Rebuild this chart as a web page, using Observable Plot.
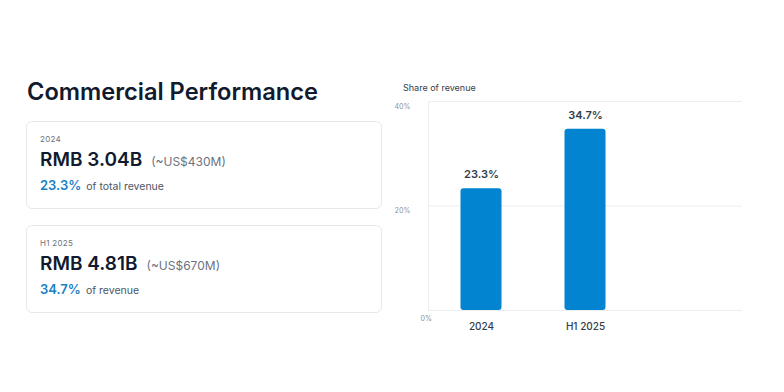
<!DOCTYPE html>
<html>
<head>
<meta charset="utf-8">
<script src="https://cdn.jsdelivr.net/npm/d3@7"></script>
<script src="https://cdn.jsdelivr.net/npm/@observablehq/plot@0.6"></script>
<style>
  html, body { margin: 0; padding: 0; background: #fff; }
  body { width: 784px; height: 392px; position: relative; overflow: hidden; font-family: Inter, "Noto Sans", sans-serif; }
  h1 { position: absolute; left: 27px; top: 77px; margin: 0; font-size: 23.6px; font-weight: 600; color: #111a2e; }
  .card { position: absolute; left: 26px; width: 356px; height: 88px; border: 1px solid #e6e8ee; border-radius: 6px; box-sizing: border-box; }
  .card .period { position: absolute; left: 13px; top: 12px; font-size: 8px; color: #6b7280; letter-spacing: 0.3px; }
  .card .amount { position: absolute; left: 13px; top: 26px; font-size: 19px; font-weight: 600; color: #111a2e; white-space: nowrap; }
  .card .usd { font-size: 12px; font-weight: 400; color: #6b7280; margin-left: 9px; }
  .card .share { position: absolute; left: 13px; top: 55px; font-size: 13px; font-weight: 600; color: #1a7fc4; white-space: nowrap; }
  .card .share span { font-size: 10.5px; font-weight: 400; color: #4b5563; margin-left: 5px; }
  #title { position: absolute; left: 403px; top: 82px; font-size: 9px; color: #333d4b; }
  #chart { position: absolute; left: 390px; top: 95px; }
</style>
</head>
<body>
<h1>Commercial Performance</h1>
<div id="cards"></div>
<div id="title">Share of revenue</div>
<div id="chart"></div>
<script>
const periods = ["2024", "H1 2025"];
const shares = [23.3, 34.7];
const amounts = ["RMB 3.04B", "RMB 4.81B"];
const usd = ["(~US$430M)", "(~US$670M)"];
const shareNotes = ["of total revenue", "of revenue"];
const yTicks = [0, 20, 40];

// cards
const cardTops = [121, 225];
const cards = document.getElementById("cards");
periods.forEach((p, i) => {
  const c = document.createElement("div");
  c.className = "card";
  c.style.top = cardTops[i] + "px";
  c.innerHTML = `<div class="period">${p}</div>
    <div class="amount">${amounts[i]}<span class="usd">${usd[i]}</span></div>
    <div class="share">${shares[i].toFixed(1)}%<span>${shareNotes[i]}</span></div>`;
  cards.appendChild(c);
});

const data = periods.map((p, i) => ({period: p, share: shares[i]}));

const chart = Plot.plot({
  width: 370,
  height: 240,
  marginLeft: 38,
  marginTop: 6,
  marginBottom: 25,
  marginRight: 18,
  style: {fontFamily: "Inter, 'Noto Sans', sans-serif", background: "transparent"},
  x: {domain: [...periods, " "], padding: 0, axis: null},
  y: {domain: [0, 40], axis: null},
  marks: [
    Plot.gridY(yTicks, {stroke: "#eceef3", strokeOpacity: 1, strokeWidth: 1}),
    Plot.frame({anchor: "left", stroke: "#eceef3"}),
    Plot.barY(data, {x: "period", y: "share", fill: "#0284d1", insetLeft: 31.5, insetRight: 31.5, rx: 3}),
    Plot.text(data, {x: "period", y: "share", text: d => d.share.toFixed(1) + "%", dy: -14, fontSize: 11, fontWeight: 600, fill: "#333d4b"}),
    Plot.axisX({domain: periods, label: null, tickSize: 0, tickPadding: 12, fontSize: 10, fontWeight: 500, color: "#333d4b"}),
    Plot.axisY(yTicks.filter(t => t > 0), {label: null, tickSize: 0, textAnchor: "start", dx: -25, dy: 5, fontSize: 7, color: "#8a919c", tickFormat: d => d + "%"}),
    Plot.axisY([0], {label: null, tickSize: 0, textAnchor: "start", dx: 1, dy: 8, fontSize: 7, color: "#8a919c", tickFormat: d => d + "%"})
  ]
});
document.getElementById("chart").appendChild(chart);
</script>
</body>
</html>
